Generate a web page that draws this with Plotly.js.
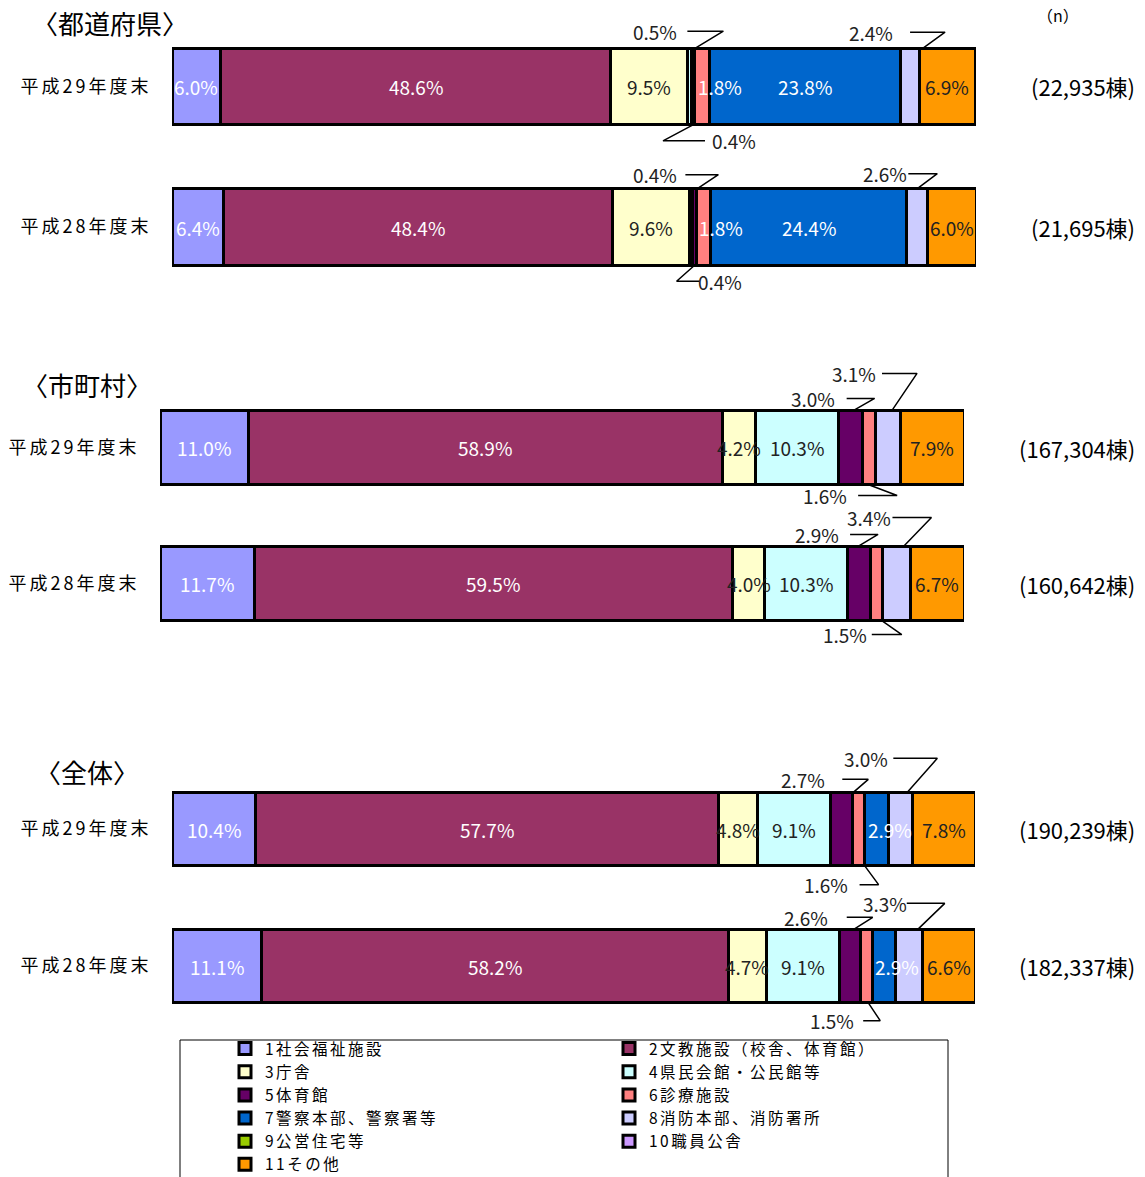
<!DOCTYPE html>
<html><head><meta charset="utf-8">
<script src="https://cdn.plot.ly/plotly-3.0.1.min.js"></script>
<style>
html,body{margin:0;padding:0;background:#fff;overflow:hidden;width:1145px;height:1177px;}
#chart{width:1145px;height:1177px;overflow:hidden;}
.ytick text,.y2tick text,.y3tick text{letter-spacing:3px;}
.legendtext{letter-spacing:2.5px;}
</style>
</head><body><div id="chart"></div>
<script>
// ---- data ----
const categories = ['1社会福祉施設','2文教施設（校舎、体育館）','3庁舎','4県民会館・公民館等','5体育館','6診療施設','7警察本部、警察署等','8消防本部、消防署所','9公営住宅等','10職員公舎','11その他'];
const periodLabels = ['平成29年度末','平成28年度末'];
const groupTitles = ['〈都道府県〉','〈市町村〉','〈全体〉'];
const prefH29 = [6.0,48.6,9.5,0.5,0.4,1.8,23.8,2.4,0,0,6.9];
const prefH28 = [6.4,48.4,9.6,0.4,0.4,1.8,24.4,2.6,0,0,6.0];
const muniH29 = [11.0,58.9,4.2,10.3,3.0,1.6,0,3.1,0,0,7.9];
const muniH28 = [11.7,59.5,4.0,10.3,2.9,1.5,0,3.4,0,0,6.7];
const allH29 = [10.4,57.7,4.8,9.1,2.7,1.6,2.9,3.0,0,0,7.8];
const allH28 = [11.1,58.2,4.7,9.1,2.6,1.5,2.9,3.3,0,0,6.6];
const nPref = [22935, 21695];
const nMuni = [167304, 160642];
const nAll = [190239, 182337];

// ---- style ----
const colors = ['#9999FF','#993366','#FFFFCC','#CCFFFF','#660066','#FF8080','#0066CC','#CCCCFF','#99CC00','#CC99FF','#FF9900'];
const insideColors = ['#fff','#fff','#222','#222','#fff','#fff','#fff','#222','#222','#fff','#222'];
const FONT = '"Noto Sans CJK JP", "Noto Sans", sans-serif';
const W = 1145, H = 1177;

const groups = [
  {values:[prefH29, prefH28], n:nPref, title:groupTitles[0]},
  {values:[muniH29, muniH28], n:nMuni, title:groupTitles[1]},
  {values:[allH29, allH28], n:nAll, title:groupTitles[2]}
];
const geo = [
  {x0:172, x1:976, c1:86.5,  ppu:140.5, bw:0.545, hi:1.5,  tx:30, ty:22},
  {x0:160, x1:964, c1:447.5, ppu:136,   bw:0.545, hi:1.65, tx:20, ty:385},
  {x0:172, x1:975, c1:829,   ppu:137,   bw:0.535, hi:1.65, tx:33, ty:771}
];
const LO = -0.5;
geo.forEach(gm => {
  gm.topPx = gm.c1 - (gm.hi - 1) * gm.ppu;
  gm.botPx = gm.topPx + (gm.hi - LO) * gm.ppu;
  gm.dom = [1 - gm.botPx / H, 1 - gm.topPx / H];
});
const toPaperX = (gm, v) => (gm.x0 + v / 100 * (gm.x1 - gm.x0)) / W;
const toPaperY = (gm, u) => gm.dom[0] + (u - LO) / (gm.hi - LO) * (gm.dom[1] - gm.dom[0]);

// leader-line label placement (pixel offsets from segment centre / bar edge)
const leaders = [
 {g:0,b:0,seg:3,side:'top',bx:6,ex:34,ey:-17,tx:-2,lx:-10,anchor:'right'},
 {g:0,b:0,seg:4,side:'bottom',bx:0,ex:-30,ey:16,tx:12,lx:17,anchor:'left'},
 {g:0,b:0,seg:7,side:'top',bx:13,ex:35,ey:-16,tx:0,lx:-15,anchor:'right'},
 {g:0,b:1,seg:3,side:'top',bx:6,ex:27,ey:-14,tx:-6,lx:-12,anchor:'right'},
 {g:0,b:1,seg:4,side:'bottom',bx:0,ex:-18,ey:16,tx:5,lx:1,anchor:'left'},
 {g:0,b:1,seg:7,side:'top',bx:0,ex:20,ey:-15,tx:-9,lx:-8,anchor:'right'},
 {g:1,b:0,seg:4,side:'top',bx:3,ex:24,ey:-12,tx:-4,lx:-14,anchor:'right'},
 {g:1,b:0,seg:7,side:'top',bx:4,ex:29,ey:-37,tx:-6,lx:-10,anchor:'right'},
 {g:1,b:0,seg:5,side:'bottom',bx:-1,ex:28,ey:11,tx:-11,lx:-20,anchor:'right'},
 {g:1,b:1,seg:4,side:'top',bx:-1,ex:19,ey:-12,tx:-9,lx:-18,anchor:'right'},
 {g:1,b:1,seg:7,side:'top',bx:7,ex:35,ey:-29,tx:-4,lx:-3,anchor:'right'},
 {g:1,b:1,seg:5,side:'bottom',bx:5,ex:25,ey:14,tx:-5,lx:-8,anchor:'right'},
 {g:2,b:0,seg:4,side:'top',bx:12,ex:27,ey:-13,tx:1,lx:-14,anchor:'right'},
 {g:2,b:0,seg:7,side:'top',bx:7,ex:37,ey:-34,tx:-7,lx:-10,anchor:'right'},
 {g:2,b:0,seg:5,side:'bottom',bx:6,ex:20,ey:19,tx:1,lx:-9,anchor:'right'},
 {g:2,b:1,seg:4,side:'top',bx:4,ex:23,ey:-12,tx:-3,lx:-20,anchor:'right'},
 {g:2,b:1,seg:7,side:'top',bx:9,ex:36,ey:-26,tx:-2,lx:0,anchor:'right'},
 {g:2,b:1,seg:5,side:'bottom',bx:2,ex:14,ey:18,tx:-3,lx:-10,anchor:'right'}
];
const outsideKey = new Set(leaders.map(l => l.g+'-'+l.b+'-'+l.seg));
const fmt = v => v.toFixed(1) + '%';
const sfx = i => i === 0 ? '' : String(i + 1);

const traces = [];
const annotations = [];
categories.forEach((cat, c) => {
  groups.forEach((grp, g) => {
    const vals = grp.values.map(v => v[c]);
    traces.push({
      type:'bar', orientation:'h',
      x: vals, y:[1, 0],
      xaxis:'x'+sfx(g), yaxis:'y'+sfx(g),
      width: geo[g].bw,
      name: cat, showlegend: g === 0,
      marker:{color: colors[c], line:{color:'#000', width:3}},
      hoverinfo:'skip'
    });
  });
});

// segment value labels, drawn above all bars so overflowing text stays visible
groups.forEach((grp, g) => {
  const gm = geo[g];
  grp.values.forEach((vals, b) => {
    let start = 0;
    vals.forEach((v, c) => {
      if (v > 0 && !outsideKey.has(g+'-'+b+'-'+c)) {
        const narrow = v < 3;
        annotations.push({
          xref:'paper', yref:'paper',
          x: toPaperX(gm, narrow ? start : start + v / 2) + (narrow ? 1 / W : 0),
          y: toPaperY(gm, b === 0 ? 1 : 0),
          xanchor: narrow ? 'left' : 'center', yanchor:'middle',
          text: fmt(v), showarrow:false,
          font:{size:19, color: insideColors[c], family:FONT}
        });
      }
      start += v;
    });
  });
});

leaders.forEach(l => {
  const gm = geo[l.g];
  const vals = groups[l.g].values[l.b];
  const s = 100 / (gm.x1 - gm.x0);
  let start = 0; for (let i = 0; i < l.seg; i++) start += vals[i];
  const mid = start + vals[l.seg] / 2;
  const yc = l.b === 0 ? 1 : 0;
  const edge = yc + (l.side === 'top' ? gm.bw / 2 : -gm.bw / 2);
  const yE = edge - l.ey / gm.ppu;
  traces.push({
    type:'scatter', mode:'lines',
    x:[mid + l.bx * s, mid + l.ex * s, mid + l.tx * s],
    y:[edge, yE, yE],
    xaxis:'x'+sfx(l.g), yaxis:'y'+sfx(l.g),
    line:{color:'#000', width:1.5}, showlegend:false, hoverinfo:'skip'
  });
  annotations.push({
    xref:'paper', yref:'paper',
    x: toPaperX(gm, mid + l.lx * s), y: toPaperY(gm, yE),
    xanchor: l.anchor, yanchor:'middle',
    text: fmt(vals[l.seg]), showarrow:false,
    font:{size:19, color:'#222', family:FONT}
  });
});

groups.forEach((grp, g) => {
  const gm = geo[g];
  annotations.push({
    xref:'paper', yref:'paper', x: gm.tx / W, y: 1 - gm.ty / H,
    xanchor:'left', yanchor:'middle', text: grp.title, showarrow:false,
    font:{size:26, color:'#000', family:FONT}
  });
  grp.n.forEach((n, b) => {
    annotations.push({
      xref:'paper', yref:'paper', x: 1137 / W, y: toPaperY(gm, b === 0 ? 1 : 0),
      xanchor:'right', yanchor:'middle',
      text: '(' + n.toLocaleString('en-US') + '棟)', showarrow:false,
      font:{size:22, color:'#000', family:FONT}
    });
  });
});
annotations.push({
  xref:'paper', yref:'paper', x: 1058 / W, y: 1 - 15 / H,
  xanchor:'center', yanchor:'middle', text:'（n）', showarrow:false,
  font:{size:16, color:'#000', family:FONT}
});

const layout = {
  width: W, height: H,
  margin:{l:0, r:0, t:0, b:0, autoexpand:false},
  paper_bgcolor:'#fff', plot_bgcolor:'#fff',
  barmode:'stack',
  font:{family:FONT, color:'#000'},
  showlegend:true,
  legend:{
    orientation:'h', x: 225 / W, xanchor:'left', y: 1 - 1032 / H, yanchor:'top',
    entrywidth: 339, entrywidthmode:'pixels',
    font:{size:15.5, family:FONT, color:'#000'},
    bgcolor:'rgba(0,0,0,0)', borderwidth:0, traceorder:'normal'
  },
  shapes:[{
    type:'rect', xref:'paper', yref:'paper',
    x0: 180 / W, x1: 948 / W, y0: -0.02, y1: 1 - 1040 / H,
    line:{color:'#000', width:1}, fillcolor:'rgba(0,0,0,0)', layer:'below'
  }],
  annotations: annotations
};
geo.forEach((gm, g) => {
  layout['xaxis' + sfx(g)] = {
    domain:[gm.x0 / W, gm.x1 / W], range:[0, 100], visible:false,
    anchor:'y' + sfx(g), fixedrange:true
  };
  layout['yaxis' + sfx(g)] = {
    domain: gm.dom,
    range:[LO, gm.hi], tickvals:[0, 1], ticktext:[periodLabels[1], periodLabels[0]],
    showgrid:false, zeroline:false, showline:false,
    ticks:'outside', ticklen:16, tickcolor:'rgba(0,0,0,0)',
    tickfont:{size:18, color:'#000', family:FONT},
    anchor:'x' + sfx(g), fixedrange:true
  };
});

Plotly.newPlot('chart', traces, layout, {displayModeBar:false, staticPlot:true});
</script>
</body></html>
